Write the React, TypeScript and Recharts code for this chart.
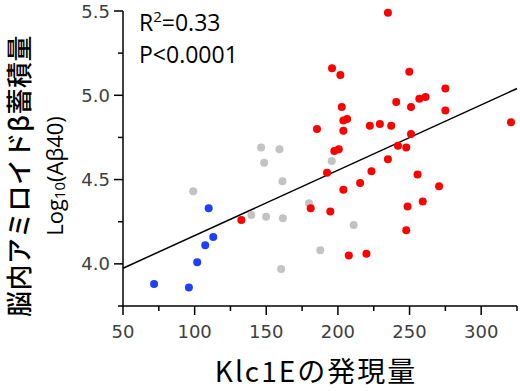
import React from "react";
import {
  ScatterChart, Scatter, XAxis, YAxis, ReferenceLine, Label,
} from "recharts";

// Klc1E expression vs log10(Aβ40), three groups
const blueX = [71.7, 96, 101.8, 107.4, 109.8, 113];
const blueY = [3.88, 3.86, 4.01, 4.11, 4.33, 4.16];

const grayX = [99, 139.6, 146.4, 148.5, 149.9, 159.2, 161.3, 161.6, 160.4, 179.8, 187.7, 195.7, 211];
const grayY = [4.43, 4.29, 4.69, 4.6, 4.28, 4.68, 4.49, 4.27, 3.97, 4.36, 4.08, 4.61, 4.23];

const redX = [
  132.6, 181, 185.4, 192.4, 194.7, 195.9, 197.5, 200.6, 201.7, 202.7, 203.8, 203.8, 203.8,
  206.4, 207.6, 215.5, 219.9, 222.3, 223.4, 229.3, 234.9, 234.9, 237.2, 240.7, 241.9, 247.7,
  247.7, 248.6, 249.8, 251, 251, 255.6, 256.8, 259.2, 261.2, 270.6, 275, 275, 320.8,
];
const redY = [
  4.26, 4.33, 4.8, 4.54, 4.31, 5.16, 4.67, 4.68, 5.12, 4.93, 4.79, 4.44, 4.85,
  4.86, 4.05, 4.48, 4.06, 4.82, 4.55, 4.83, 4.62, 5.49, 4.82, 4.96, 4.7, 4.69,
  4.2, 4.34, 5.14, 4.93, 4.77, 4.53, 4.98, 4.37, 4.99, 4.46, 5.04, 4.91, 4.84,
];

// fitted line end points
const fitX = [50, 325];
const fitY = [3.974, 5.04];

const xTicks = [50, 75, 100, 125, 150, 175, 200, 225, 250, 275, 300, 325];
const yTicks = [3.75, 4, 4.25, 4.5, 4.75, 5, 5.25, 5.5];

const toPoints = (xs: number[], ys: number[]) => xs.map((x, i) => ({ x, y: ys[i] }));
const bluePts = toPoints(blueX, blueY);
const grayPts = toPoints(grayX, grayY);
const redPts = toPoints(redX, redY);

const dot = (color: string) => (p: any) => (
  <circle cx={p.cx} cy={p.cy} r={4} fill={color} />
);

const XTick = (props: any) => {
  const { x, y, payload } = props;
  const major = payload.value % 50 === 0;
  return (
    <g>
      <line x1={x} x2={x} y1={y} y2={y + (major ? 9 : 5)} stroke="#000" strokeWidth={1.5} />
      {major && (
        <text x={x} y={y + 32} textAnchor="middle" fontSize={18} fill="#404040" fontFamily="DejaVu Sans">
          {payload.value}
        </text>
      )}
    </g>
  );
};

const YTick = (props: any) => {
  const { x, y, payload } = props;
  const major = Math.round(payload.value * 4) % 2 === 0;
  return (
    <g>
      <line x1={x} x2={x - (major ? 9 : 5)} y1={y} y2={y} stroke="#000" strokeWidth={1.5} />
      {major && (
        <text x={x - 13} y={y + 6.5} textAnchor="end" fontSize={18} fill="#404040" fontFamily="DejaVu Sans">
          {payload.value.toFixed(1)}
        </text>
      )}
    </g>
  );
};

const YTitles = () => (
  <g>
    <text
      transform="translate(17,176) rotate(-90)"
      textAnchor="middle"
      dominantBaseline="central"
      fontSize={26}
      fontWeight={500}
      letterSpacing={0.5}
      fontFamily="'Noto Sans CJK JP', sans-serif"
      fill="#000"
    >
      脳内アミロイドβ蓄積量
    </text>
    <text
      transform="translate(54,176) rotate(-90)"
      textAnchor="middle"
      dominantBaseline="central"
      fontSize={22}
      fontFamily="'Open Sans', sans-serif"
      fill="#000"
    >
      Log<tspan dy={5} fontSize={15}>10</tspan><tspan dy={-5}>(Aβ40)</tspan>
    </text>
    <text x={139} y={31} fontSize={23} fontFamily="'Open Sans', sans-serif" fill="#000">
      R<tspan dy={-9} fontSize={15}>2</tspan><tspan dy={9}>=0.33</tspan>
    </text>
    <text x={139} y={63} fontSize={23} fontFamily="'Open Sans', sans-serif" fill="#000">
      P&lt;0.0001
    </text>
  </g>
);

const XTitle = () => (
  <text
    x={316}
    y={382}
    textAnchor="middle"
    fontSize={28}
    letterSpacing={2}
    fontFamily="'Noto Sans CJK JP', sans-serif"
    fill="#000"
  >
    Klc1Eの発現量
  </text>
);

export default function App() {
  return (
    <div style={{ position: "absolute", left: 0, top: 0, width: 520, height: 391, background: "#fff" }}>
      <ScatterChart width={520} height={391} margin={{ top: 11, right: 3, bottom: 0, left: 0 }}>
        <XAxis
          type="number"
          dataKey="x"
          domain={[50, 325]}
          ticks={xTicks}
          interval={0}
          height={85}
          tickSize={0}
          tickMargin={0}
          tick={<XTick />}
          axisLine={{ stroke: "#000", strokeWidth: 1.5 }}
        >
          <Label content={<XTitle />} />
        </XAxis>
        <YAxis
          type="number"
          dataKey="y"
          domain={[3.75, 5.5]}
          ticks={yTicks}
          interval={0}
          width={123}
          tickSize={0}
          tickMargin={0}
          tick={<YTick />}
          axisLine={{ stroke: "#000", strokeWidth: 1.5 }}
        >
          <Label content={<YTitles />} />
        </YAxis>
        <ReferenceLine
          segment={[{ x: fitX[0], y: fitY[0] }, { x: fitX[1], y: fitY[1] }]}
          stroke="#000"
          strokeWidth={1.5}
        />
        <Scatter data={grayPts} fill="#c3c3c3" shape={dot("#c3c3c3")} isAnimationActive={false} />
        <Scatter data={bluePts} fill="#1f3fff" shape={dot("#1f3fff")} isAnimationActive={false} />
        <Scatter data={redPts} fill="#ff0000" shape={dot("#ff0000")} isAnimationActive={false} />
      </ScatterChart>
    </div>
  );
}
